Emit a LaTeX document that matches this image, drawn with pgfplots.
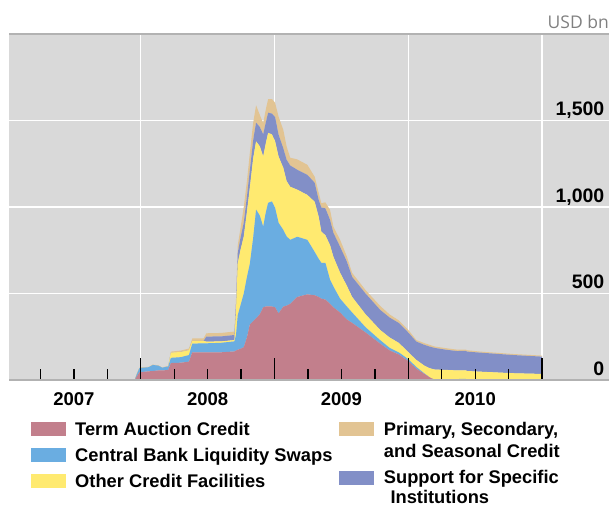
\documentclass[border=0pt]{standalone}
\usepackage{pgfplots}
\pgfplotsset{compat=1.18}
\usepackage{pgfplotstable}
\usepackage{fontspec}
\setmainfont{Liberation Sans}
\newfontfamily\usdfont{Open Sans}
\definecolor{bg}{RGB}{217,217,217}
\definecolor{cTAF}{RGB}{194,127,140}
\definecolor{cSWP}{RGB}{106,173,225}
\definecolor{cOTH}{RGB}{255,234,112}
\definecolor{cSPE}{RGB}{130,143,199}
\definecolor{cPRI}{RGB}{226,196,147}
\definecolor{usdgray}{RGB}{128,128,128}
\pgfplotsset{
  layers/mylayers/.define layer set={axis background,axis grid,pre main,main,axis ticks,axis lines,axis tick labels,axis descriptions,axis foreground}{
    grid style={/pgfplots/on layer=axis grid},
    tick style={/pgfplots/on layer=axis ticks},
    axis line style={/pgfplots/on layer=axis lines},
    label style={/pgfplots/on layer=axis descriptions},
    legend style={/pgfplots/on layer=axis descriptions},
    title style={/pgfplots/on layer=axis descriptions},
    colorbar style={/pgfplots/on layer=axis descriptions},
    ticklabel style={/pgfplots/on layer=axis tick labels},
    axis background@ style={/pgfplots/on layer=axis background},
    3d box foreground style={/pgfplots/on layer=axis foreground},
  },
}
\pgfplotstableread{
t        taf  swp  oth  spe  pri
2007.60  0    0    0    0    0
2007.63  0    0    0    0    3
2007.70  0    0    0    0    4
2007.80  0    0    0    0    2
2007.955 0    0    0    0    3
2007.97  20   12   0    0    3
2007.99  45   24   0    0    3
2008.06  50   24   0    0    2
2008.09  52   35   0    0    2
2008.13  55   28   0    0    2
2008.16  55   16   0    0    2
2008.205 58   20   0    0    3
2008.225 98   30   30   0    6
2008.30  100  32   30   0    8
2008.36  106  38   28   0    10
2008.385 160  50   16   0    14
2008.47  160  52   14   0    15
2008.49  160  52   10   29   19
2008.60  160  55   8    29   20
2008.70  165  58   8    29   20
2008.712 170  90   140  40   30
2008.725 175  200  300  60   45
2008.745 180  250  320  70   55
2008.77  190  310  330  80   90
2008.795 250  350  380  90   90
2008.815 320  350  440  100  100
2008.84  340  480  460  105  100
2008.862 356  629  395  108  100
2008.89  380  570  400  112  70
2008.915 420  466  406  128  65
2008.935 425  545  400  120  75
2008.952 425  599  404  117  79
2008.98  425  607  388  120  84
2009.004 420  575  385  140  83
2009.03  385  524  383  126  104
2009.065 424  444  359  113  107
2009.09  430  400  320  123  77
2009.117 440  370  307  123  45
2009.17  480  348  272  115  60
2009.245 495  315  260  116  58
2009.30  490  250  290  110  35
2009.33  480  220  243  97   42
2009.35  470  207  180  140  25
2009.38  465  212  160  155  35
2009.415 440  139  200  146  58
2009.44  420  120  172  138  36
2009.49  390  80   150  150  40
2009.54  350  75   120  140  30
2009.58  330  60   90   116  23
2009.68  275  30   75   120  20
2009.79  210  20   59   116  23
2009.86  171  15   60   115  18
2009.93  147  12   55   115  15
2010.00  110  10   40   114  15
2010.06  65   10   41   106  9
2010.12  35   3    45   120  10
2010.16  15   0    53   125  10
2010.20  0    0    60   125  8
2010.29  0    0    58   116  9
2010.37  0    0    55   112  8
2010.38  0    6    50   112  8
2010.43  0    6    50   112  8
2010.44  0    0    52   112  8
2010.54  0    0    48   110  6
2010.79  0    0    39   105  6
2011.00  0    0    35   100  6
}\data
\newcommand{\legfont}{\fontsize{18.3bp}{22bp}\selectfont\bfseries}
\begin{document}
\begin{tikzpicture}
\begin{axis}[
  set layers=mylayers,
  at={(9bp,126bp)}, anchor=south west,
  width=600bp, height=346bp, scale only axis,
  xmin=2007.015, xmax=2011.5, ymin=0, ymax=2000,
  axis background/.style={fill=bg},
  stack plots=y,
  xtick={2008,2009,2010,2011}, xticklabels={},
  minor xtick={2007.25,2007.5,2007.75,2008.25,2008.5,2008.75,2009.25,2009.5,2009.75,2010.25,2010.5,2010.75},
  extra x ticks={2007.5,2008.5,2009.5,2010.5},
  extra x tick labels={2007,2008,2009,2010},
  extra x tick style={grid=none, major tick length=0pt},
  xmajorgrids, ymajorgrids,
  grid style={white, line width=1.4bp},
  xtick pos=left,
  tick align=inside,
  major tick length=22bp, minor tick length=11bp,
  tick style={black, line width=1.3bp},
  ytick={0,500,1000,1500}, yticklabels={0,500,{1,000},{1,500}},
  ytick style={draw=none},
  yticklabel pos=right,
  yticklabel style={anchor=base east, inner sep=0pt, xshift=-4.5bp, yshift=4.6bp, font=\fontsize{19.5bp}{20bp}\selectfont\bfseries},
  xticklabel style={anchor=base, inner sep=0pt, yshift=-25.9bp, font=\fontsize{18.5bp}{20bp}\selectfont\bfseries},
  separate axis lines,
  every outer y axis line/.append style={draw=none},
  every outer x axis line/.append style={draw=gray!60, line width=1.2bp},
]
\addplot[fill=cTAF, draw=none, mark=none] table[x=t, y=taf]{\data} \closedcycle;
\addplot[fill=cSWP, draw=none, mark=none] table[x=t, y=swp]{\data} \closedcycle;
\addplot[fill=cOTH, draw=none, mark=none] table[x=t, y=oth]{\data} \closedcycle;
\addplot[fill=cSPE, draw=none, mark=none] table[x=t, y=spe]{\data} \closedcycle;
\addplot[fill=cPRI, draw=none, mark=none] table[x=t, y=pri]{\data} \closedcycle;
\end{axis}
\node[anchor=base east, inner sep=0pt, text=usdgray] at (609bp,477bp) {\usdfont\fontsize{17.5bp}{18bp}\selectfont USD bn};
% legend
\fill[cTAF] (31bp,70bp) rectangle (66bp,84.3bp);
\node[anchor=base west, inner sep=0pt] at (75bp,70bp) {\legfont Term Auction Credit};
\fill[cSWP] (31bp,44.3bp) rectangle (66bp,58.3bp);
\node[anchor=base west, inner sep=0pt] at (75bp,44.3bp) {\legfont Central Bank Liquidity Swaps};
\fill[cOTH] (31bp,18.3bp) rectangle (66bp,32.3bp);
\node[anchor=base west, inner sep=0pt] at (75bp,18.3bp) {\legfont Other Credit Facilities};
\fill[cPRI] (339bp,70bp) rectangle (374bp,84.3bp);
\node[anchor=base west, inner sep=0pt] at (383.7bp,70bp) {\legfont Primary, Secondary,};
\node[anchor=base west, inner sep=0pt] at (383.7bp,48.7bp) {\legfont and Seasonal Credit};
\fill[cSPE] (339bp,21bp) rectangle (374bp,35.3bp);
\node[anchor=base west, inner sep=0pt] at (383.7bp,22.7bp) {\legfont Support for Specific};
\node[anchor=base west, inner sep=0pt] at (390.3bp,3bp) {\legfont Institutions};
\path (0,0) rectangle (612bp,506bp);
\end{tikzpicture}
\end{document}
